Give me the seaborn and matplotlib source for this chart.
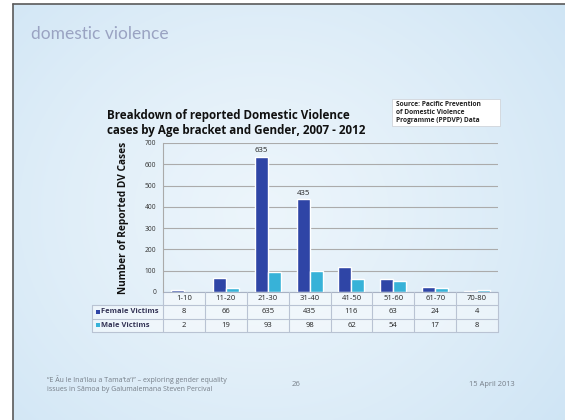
import numpy as np
import pandas as pd
import matplotlib
matplotlib.use("Agg")
import matplotlib.pyplot as plt
from matplotlib.lines import Line2D
from matplotlib.patches import Rectangle
import seaborn as sns

# ---- data ----
age_brackets = ["1-10", "11-20", "21-30", "31-40", "41-50", "51-60", "61-70", "70-80"]
female_victims = [8, 66, 635, 435, 116, 63, 24, 4]
male_victims = [2, 19, 93, 98, 62, 54, 17, 8]
series_names = ["Female Victims", "Male Victims"]
y_ticks = [0, 100, 200, 300, 400, 500, 600, 700]

FEMALE_C = "#2F45A6"
MALE_C = "#37B2D8"

sns.set_style("white")
plt.rcParams["font.family"] = ["Open Sans", "DejaVu Sans"]

W, H = 565, 420
fig = plt.figure(figsize=(W / 100, H / 100), dpi=100)
fig.patch.set_facecolor("white")

# ---- slide background (soft blue gradient) ----
bg = fig.add_axes([13 / W, 0, 1 - 13 / W, (H - 4) / H])
yy, xx = np.mgrid[0:1:200j, 0:1:300j]
d = np.sqrt(((xx - 0.45) / 0.8) ** 2 + ((yy - 0.5) / 0.95) ** 2)
d = np.clip(d, 0, 1) ** 1.3
light = np.array([0.925, 0.96, 0.985])
edge = np.array([0.79, 0.885, 0.955])
img = light[None, None, :] * (1 - d[..., None]) + edge[None, None, :] * d[..., None]
bg.imshow(img, aspect="auto", extent=[0, 1, 0, 1], origin="upper")
bg.set_xlim(0, 1)
bg.set_ylim(0, 1)
bg.axis("off")

fig.add_artist(Line2D([12.5 / W, 12.5 / W], [0, 1 - 3.5 / H], color="#5a5a5a", lw=1.2,
                      transform=fig.transFigure))
fig.add_artist(Line2D([12.5 / W, 1], [1 - 3.5 / H, 1 - 3.5 / H], color="#5a5a5a", lw=1.2,
                      transform=fig.transFigure))

fig.text(31 / W, 1 - 34 / H, "domestic violence", fontsize=12.5, color="#9AA3C2",
         family=["Lato", "DejaVu Sans"], va="center", ha="left")

# ---- chart ----
x0, x1, ytop, ybot = 163, 498, 143, 292
ax = fig.add_axes([x0 / W, 1 - ybot / H, (x1 - x0) / W, (ybot - ytop) / H])
ax.patch.set_visible(False)

df = pd.DataFrame({
    "age": age_brackets * 2,
    "cases": female_victims + male_victims,
    "victims": [series_names[0]] * len(age_brackets) + [series_names[1]] * len(age_brackets),
})
sns.barplot(data=df, x="age", y="cases", hue="victims", palette=[FEMALE_C, MALE_C],
            width=0.62, gap=0, legend=False, ax=ax, saturation=1, order=age_brackets)

ax.set_ylim(0, 700)
ax.set_xlim(-0.5, len(age_brackets) - 0.5)
ax.set_yticks(y_ticks)
ax.set_yticklabels([str(t) for t in y_ticks], fontsize=4.8, color="#333333")
ax.tick_params(axis="y", length=0, pad=5)
ax.set_xticks([])
ax.set_xlabel("")
ax.set_ylabel("Number of Reported DV Cases", fontsize=7.3, fontweight="bold", color="#111111",
              labelpad=11)
ax.grid(axis="y", color="#ABABAB", lw=0.8)
ax.set_axisbelow(True)
for s in ["top", "right", "bottom"]:
    ax.spines[s].set_visible(False)
ax.spines["left"].set_color("#AAAAAA")
ax.spines["left"].set_linewidth(0.8)

# value labels on the two highest female bars
fem_container = ax.containers[0]
ax.bar_label(fem_container, labels=[str(v) if v > 400 else "" for v in female_victims],
             fontsize=5.6, color="#222222", padding=2)

# ---- data table below the axis ----
row_h = 13.3 / (ybot - ytop)
label_w = (163 - 92) / (x1 - x0)
n = len(age_brackets)
tr = ax.transAxes
grid_c = "#B9C3D3"
ax.add_patch(Rectangle((-label_w, -3 * row_h), 1 + label_w, 2 * row_h, transform=tr,
                       facecolor=(1, 1, 1, 0.45), edgecolor="none", clip_on=False))
ax.add_patch(Rectangle((0, -row_h), 1, row_h, transform=tr,
                       facecolor=(1, 1, 1, 0.45), edgecolor="none", clip_on=False))


def hline(y, xa, xb, c=grid_c, lw=0.8):
    ax.add_line(Line2D([xa, xb], [y, y], transform=tr, color=c, lw=lw, clip_on=False))


def vline(x, ya, yb, c=grid_c, lw=0.8):
    ax.add_line(Line2D([x, x], [ya, yb], transform=tr, color=c, lw=lw, clip_on=False))


hline(0, 0, 1, c="#A8B2C4")
hline(-row_h, -label_w, 1)
hline(-2 * row_h, -label_w, 1)
hline(-3 * row_h, -label_w, 1)
vline(-label_w, -row_h, -3 * row_h)
for k in range(n + 1):
    vline(k / n, 0.0, -3 * row_h)

for i, lab in enumerate(age_brackets):
    cx = (i + 0.5) / n
    ax.text(cx, -0.5 * row_h, lab, transform=tr, ha="center", va="center",
            fontsize=5.5, color="#222222")
    ax.text(cx, -1.5 * row_h, str(female_victims[i]), transform=tr, ha="center",
            va="center", fontsize=5.5, color="#222222")
    ax.text(cx, -2.5 * row_h, str(male_victims[i]), transform=tr, ha="center",
            va="center", fontsize=5.5, color="#222222")

for r, (name, col) in enumerate(zip(series_names, [FEMALE_C, MALE_C])):
    yc = -(1.5 + r) * row_h
    ax.add_patch(Rectangle((-label_w + 0.012, yc - 0.012), 0.011, 0.024, transform=tr,
                           facecolor=col, edgecolor="none", clip_on=False))
    ax.text(-label_w + 0.028, yc, name, transform=tr, ha="left", va="center",
            fontsize=5.4, fontweight="bold", color="#333355")

# ---- titles and source box ----
fig.text(107 / W, 1 - 123 / H, "Breakdown of reported Domestic Violence\ncases by Age bracket and Gender, 2007 - 2012",
         fontsize=8.4, fontweight="bold", color="#111111", ha="left", va="center",
         linespacing=1.25)

fig.add_artist(Rectangle((392 / W, 1 - 126 / H), 108 / W, 27 / H, transform=fig.transFigure,
                         facecolor="white", edgecolor="#D0D4DA", lw=0.6))
fig.text(396 / W, 1 - 112.5 / H,
         "Source: Pacific Prevention\nof Domestic Violence\nProgramme (PPDVP) Data",
         fontsize=4.8, fontweight="bold", color="#222222", ha="left", va="center",
         linespacing=1.15)

# ---- footer ----
foot_c = "#767e88"
fig.text(47 / W, 1 - 384 / H,
         "\u201cE \u0100u le Ina\u2018ilau a Tama\u2018ta\u2018i\u201d \u2013 exploring gender equality\nissues in S\u0101moa by Galumalemana Steven Percival",
         fontsize=5.0, color=foot_c, ha="left", va="center", linespacing=1.3)
fig.text(296 / W, 1 - 384 / H, "26", fontsize=5.6, color=foot_c, ha="center", va="center")
fig.text(515 / W, 1 - 384 / H, "15 April 2013", fontsize=5.4, color=foot_c, ha="right",
         va="center")

fig.savefig("out.png", dpi=100)
